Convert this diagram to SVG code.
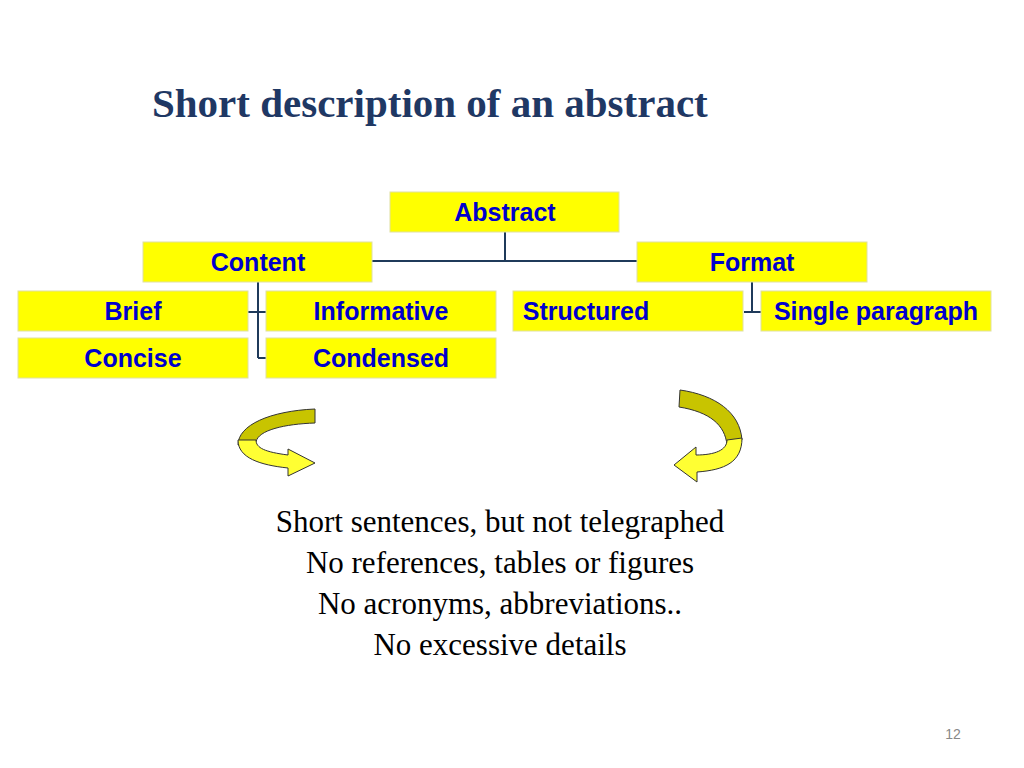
<svg xmlns="http://www.w3.org/2000/svg" width="1024" height="768" viewBox="0 0 1024 768">
<style>
.b{fill:#ffff00;stroke:#e0e0a0;stroke-width:1}
.t{font-family:"Liberation Sans",Arial,sans-serif;font-weight:bold;font-size:25px;fill:#0000cc;text-anchor:middle}
.c{stroke:#1f3a5a;stroke-width:2;fill:none}
.body{font-family:"Liberation Serif","Times New Roman",serif;font-size:31px;fill:#000;text-anchor:middle}
.d{fill:#c8c400;stroke:#333;stroke-width:1}
.y{fill:#ffff33;stroke:#333;stroke-width:1}
</style>
<rect width="1024" height="768" fill="#fff"/>
<text x="152" y="117" font-family="Liberation Serif,serif" font-weight="bold" font-size="41" fill="#1f3864">Short description of an abstract</text>
<g id="connectors">
<path class="c" d="M505,232 V261 M372,261 H637 M258,282 V358 M248,312 H266 M258,358 H266 M752,282 V312 H744 M752,312 H761"/>
</g>
<g id="abstract"><rect class="b" x="390" y="192" width="229" height="40"/><text class="t" x="505" y="221">Abstract</text></g>
<g id="content"><rect class="b" x="143" y="242" width="229" height="40"/><text class="t" x="258" y="271">Content</text></g>
<g id="format"><rect class="b" x="637" y="242" width="230" height="40"/><text class="t" x="752" y="271">Format</text></g>
<g id="brief"><rect class="b" x="18" y="291" width="230" height="40"/><text class="t" x="133" y="320">Brief</text></g>
<g id="informative"><rect class="b" x="266" y="291" width="230" height="40"/><text class="t" x="381" y="320">Informative</text></g>
<g id="structured"><rect class="b" x="513" y="291" width="230" height="40"/><text class="t" x="586" y="320">Structured</text></g>
<g id="single"><rect class="b" x="761" y="291" width="230" height="40"/><text class="t" x="876" y="320">Single paragraph</text></g>
<g id="concise"><rect class="b" x="18" y="338" width="230" height="40"/><text class="t" x="133" y="367">Concise</text></g>
<g id="condensed"><rect class="b" x="266" y="338" width="230" height="40"/><text class="t" x="381" y="367">Condensed</text></g>
<g id="arrow-left">
<path class="d" d="M315,409 L315,423 C285,424 258,430 256,442 L238,445 C238,425 270,411 315,409 Z"/>
<path class="y" d="M238,440 C238,458 260,465 288,468 L288,476 L315,463 L288,449 L288,455 C265,452 256,448 256,440 Z"/>
</g>
<g id="arrow-right">
<path class="d" d="M680,390 C715,395 740,412 742,440 L727,445 C725,425 710,412 679,407 Z"/>
<path class="y" d="M742,438 C742,462 725,470 697,472 L697,482 L674,465 L696,447 L696,455 C715,455 727,450 727,440 Z"/>
</g>
<text class="body" x="500" y="532">Short sentences, but not telegraphed</text>
<text class="body" x="500" y="573">No references, tables or figures</text>
<text class="body" x="500" y="614">No acronyms, abbreviations..</text>
<text class="body" x="500" y="655">No excessive details</text>
<text x="953" y="739" font-family="Liberation Sans,sans-serif" font-size="14" fill="#888" text-anchor="middle">12</text>
</svg>
